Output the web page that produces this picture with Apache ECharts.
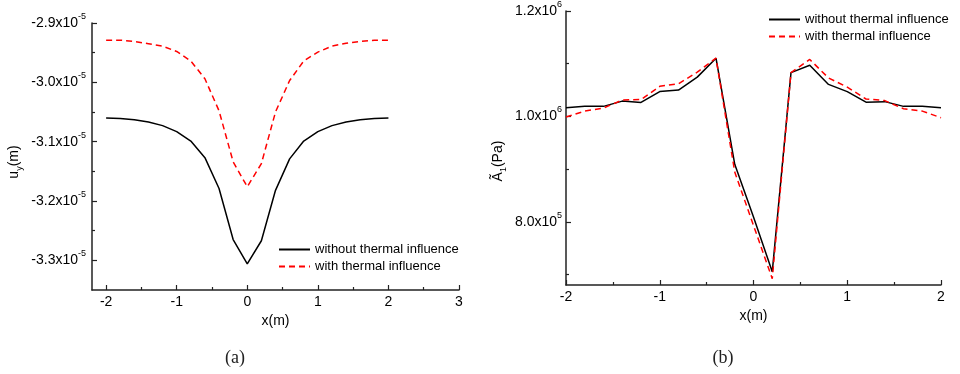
<!DOCTYPE html>
<html><head><meta charset="utf-8">
<script src="https://cdn.jsdelivr.net/npm/echarts@6/dist/echarts.min.js"></script>
<style>html,body{margin:0;padding:0;background:#fff}#c{width:960px;height:374px}</style>
</head><body><div id="c"></div>
<script>
// ---- data ----
const xValues = [-2,-1.8,-1.6,-1.4,-1.2,-1.0,-0.8,-0.6,-0.4,-0.2,0,0.2,0.4,0.6,0.8,1.0,1.2,1.4,1.6,1.8,2.0];
const seriesNames = ['without thermal influence','with thermal influence'];
// (a) vertical displacement u_y (m)
const uyWithout = [-3.060e-5,-3.061e-5,-3.063e-5,-3.067e-5,-3.073e-5,-3.083e-5,-3.099e-5,-3.127e-5,-3.179e-5,-3.265e-5,-3.306e-5,-3.267e-5,-3.182e-5,-3.129e-5,-3.099e-5,-3.083e-5,-3.073e-5,-3.067e-5,-3.063e-5,-3.061e-5,-3.060e-5];
const uyWith = [-2.929e-5,-2.929e-5,-2.931e-5,-2.935e-5,-2.939e-5,-2.948e-5,-2.964e-5,-2.994e-5,-3.048e-5,-3.134e-5,-3.176e-5,-3.137e-5,-3.050e-5,-2.997e-5,-2.964e-5,-2.949e-5,-2.939e-5,-2.934e-5,-2.931e-5,-2.929e-5,-2.929e-5];
// (b) amplitude A1 (Pa)
const aWithout = [1.0165e6,1.019e6,1.019e6,1.029e6,1.0265e6,1.047e6,1.050e6,1.0745e6,1.1105e6,0.909e6,0.809e6,0.705e6,1.083e6,1.097e6,1.0607e6,1.047e6,1.027e6,1.028e6,1.019e6,1.019e6,1.0165e6];
const aWith = [0.9987e6,1.010e6,1.0158e6,1.031e6,1.032e6,1.057e6,1.062e6,1.084e6,1.1105e6,0.8944e6,0.793e6,0.692e6,1.083e6,1.108e6,1.073e6,1.0556e6,1.033e6,1.030e6,1.0146e6,1.010e6,0.9975e6];
// ticks
const xTicksA = [-2,-1,0,1,2,3];
const xMinorA = [-1.5,-0.5,0.5,1.5,2.5];
const yTicksA = [-3.3e-5,-3.2e-5,-3.1e-5,-3.0e-5,-2.9e-5];
const yMinorA = [-3.25e-5,-3.15e-5,-3.05e-5,-2.95e-5];
const xTicksB = [-2,-1,0,1,2];
const xMinorB = [-1.5,-0.5,0.5,1.5];
const yTicksB = [8e5,1e6,1.2e6];
const yMinorB = [7e5,9e5,1.1e6];

const FONT = 'Liberation Sans, Arial, sans-serif';
const axisColor = '#222';
const pairs = ys => xValues.map((x,i)=>[x, ys[i]]);

function majorX(grid, min, max, ticks, nameGap){
  return {gridIndex:grid, type:'value', position:'bottom', min, max,
    axisLine:{show:true, onZero:false, lineStyle:{color:axisColor,width:1.5}},
    axisTick:{show:true, inside:true, length:5, customValues:ticks, lineStyle:{color:axisColor,width:1.2}},
    axisLabel:{customValues:ticks, fontSize:14, color:'#000', fontFamily:FONT, margin:5},
    splitLine:{show:false},
    name:'x(m)', nameLocation:'middle', nameGap, nameTextStyle:{fontSize:14, color:'#000', fontFamily:FONT}};
}
function minorX(grid, min, max, ticks){
  return {gridIndex:grid, type:'value', position:'bottom', offset:0, min, max,
    axisLine:{show:false, onZero:false}, axisLabel:{show:false}, splitLine:{show:false},
    axisTick:{show:true, inside:true, length:3, customValues:ticks, lineStyle:{color:axisColor,width:1.2}}};
}
function sciLabel(mant, exp){
  return '{m|' + mant + 'x10}{s|' + exp + '}';
}
const richSci = {
  m:{fontSize:14, fontFamily:FONT, color:'#000', lineHeight:14, verticalAlign:'bottom'},
  s:{fontSize:9, fontFamily:FONT, color:'#000', lineHeight:9, verticalAlign:'bottom', padding:[0,0,9,0]}
};
function majorY(grid, min, max, ticks, fmt, margin){
  return {gridIndex:grid, type:'value', position:'left', min, max,
    axisLine:{show:true, onZero:false, lineStyle:{color:axisColor,width:1.5}},
    axisTick:{show:true, inside:true, length:5, customValues:ticks, lineStyle:{color:axisColor,width:1.2}},
    axisLabel:{customValues:ticks, formatter:fmt, rich:richSci, margin},
    splitLine:{show:false}};
}
function minorY(grid, min, max, ticks){
  return {gridIndex:grid, type:'value', position:'left', offset:0, min, max,
    axisLine:{show:false, onZero:false}, axisLabel:{show:false}, splitLine:{show:false},
    axisTick:{show:true, inside:true, length:3, customValues:ticks, lineStyle:{color:axisColor,width:1.2}}};
}
const legendBase = {orient:'vertical', itemWidth:31, itemHeight:10, itemGap:4, padding:0,
  itemStyle:{opacity:0, borderWidth:0},
  textStyle:{fontSize:13, color:'#000', fontFamily:FONT}, data:seriesNames};

const chart = echarts.init(document.getElementById('c'), null, {renderer:'canvas'});
const option = {
  animation:false,
  backgroundColor:'#fff',
  grid:[
    {left:92, top:23, width:367, height:267},
    {left:566, top:11, width:375, height:274}
  ],
  xAxis:[
    majorX(0,-2.2,3,xTicksA,17),
    minorX(0,-2.2,3,xMinorA),
    majorX(1,-2,2,xTicksB,22),
    minorX(1,-2,2,xMinorB)
  ],
  yAxis:[
    majorY(0,-3.35e-5,-2.9e-5,yTicksA, v => sciLabel((v*1e5).toFixed(1), '-5'), 6),
    minorY(0,-3.35e-5,-2.9e-5,yMinorA),
    majorY(1,6.8e5,1.2e6,yTicksB, v => { const e = Math.floor(Math.log10(v)+1e-9); return sciLabel((v/Math.pow(10,e)).toFixed(1), String(e)); }, 4),
    minorY(1,6.8e5,1.2e6,yMinorB)
  ],
  legend:[
    Object.assign({left:278, top:243}, legendBase),
    Object.assign({left:768, top:13}, legendBase)
  ],
  series:[
    {name:seriesNames[0], type:'line', xAxisIndex:0, yAxisIndex:0, data:pairs(uyWithout), symbol:'none',
     lineStyle:{color:'#000', width:1.5}, itemStyle:{color:'#000'}},
    {name:seriesNames[1], type:'line', xAxisIndex:0, yAxisIndex:0, data:pairs(uyWith), symbol:'none',
     lineStyle:{color:'#ff0000', width:1.5, type:[6,4]}, itemStyle:{color:'#ff0000'}},
    {name:seriesNames[0], type:'line', xAxisIndex:2, yAxisIndex:2, data:pairs(aWithout), symbol:'none',
     lineStyle:{color:'#000', width:1.5}, itemStyle:{color:'#000'}},
    {name:seriesNames[1], type:'line', xAxisIndex:2, yAxisIndex:2, data:pairs(aWith), symbol:'none',
     lineStyle:{color:'#ff0000', width:1.5, type:[6,4]}, itemStyle:{color:'#ff0000'}}
  ],
  graphic:[
    {type:'text', x:14, y:162, rotation:Math.PI/2,
     style:{text:'{m|u}{s|y}{m|(m)}', align:'center', verticalAlign:'middle',
       rich:{m:{fontSize:14, fontFamily:FONT, fill:'#000', lineHeight:14, verticalAlign:'top'},
             s:{fontSize:9, fontFamily:FONT, fill:'#000', lineHeight:9, verticalAlign:'top', padding:[8,0,0,0]}}}},
    {type:'text', x:498, y:161, rotation:Math.PI/2,
     style:{text:'{m|Ã}{s|1}{m|(Pa)}', align:'center', verticalAlign:'middle',
       rich:{m:{fontSize:14, fontFamily:FONT, fill:'#000', lineHeight:14, verticalAlign:'top'},
             s:{fontSize:9, fontFamily:FONT, fill:'#000', lineHeight:9, verticalAlign:'top', padding:[8,0,0,0]}}}},
    {type:'text', x:235, y:358, style:{text:'(a)', fontSize:18, fontFamily:'Liberation Serif, DejaVu Serif, serif', fill:'#222', align:'center', verticalAlign:'middle'}},
    {type:'text', x:723, y:358, style:{text:'(b)', fontSize:18, fontFamily:'Liberation Serif, DejaVu Serif, serif', fill:'#222', align:'center', verticalAlign:'middle'}}
  ]
};
chart.setOption(option);
</script>
</body></html>
